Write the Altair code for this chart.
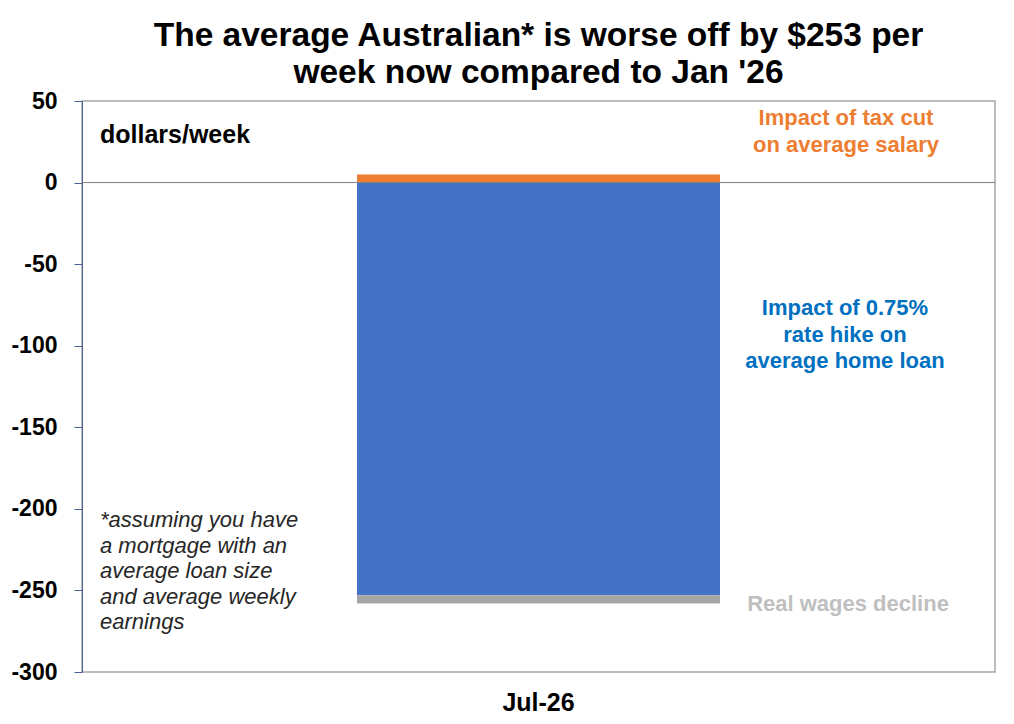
import altair as alt
import pandas as pd

period = ["Jul-26"]
components = ["Impact of tax cut on average salary",
              "Impact of 0.75% rate hike on average home loan",
              "Real wages decline"]
values = [5, -253, -5]
stack_order = [0, 1, 2]
bar_colors = ["#ED7D31", "#4472C4", "#A5A5A5"]
y_ticks = [-300, -250, -200, -150, -100, -50, 0, 50]

title_lines = ["The average Australian* is worse off by $253 per",
               "week now compared to Jan '26"]
unit_label = "dollars/week"
tax_label = "Impact of tax cut\non average salary"
rate_label = "Impact of 0.75%\nrate hike on\naverage home loan"
wages_label = "Real wages decline"
footnote = "*assuming you have\na mortgage with an\naverage loan size\nand average weekly\nearnings"

FONT = "Liberation Sans"
W, H = 913, 571

df = pd.DataFrame({
    "period": period * len(values),
    "component": components,
    "value": values,
    "order": stack_order,
})

y_scale = alt.Scale(domain=[-300, 50], nice=False, zero=False)

bars = alt.Chart(df).mark_bar(size=363).encode(
    x=alt.X("period:N", title=None,
            axis=alt.Axis(labelFontSize=25, labelFontWeight="bold", labelColor="black",
                          labelFont=FONT, ticks=False, domain=False, labelPadding=18,
                          labelAngle=0)),
    y=alt.Y("value:Q", stack="zero", scale=y_scale, title=None,
            axis=alt.Axis(values=y_ticks, grid=False, labelExpr="datum.value",
                          labelFontSize=23, labelFontWeight="bold", labelColor="black",
                          labelFont=FONT, tickSize=8, tickColor="#4a6396",
                          domainColor="#4a6396", labelPadding=17)),
    color=alt.Color("component:N", scale=alt.Scale(domain=components, range=bar_colors),
                    legend=None),
    order=alt.Order("order:Q"),
)

zero = alt.Chart(pd.DataFrame({"z": [0]})).mark_rule(color="#808080", strokeWidth=1).encode(
    y=alt.Y("z:Q", scale=y_scale)
)


def note(text, x, y, color, size, align="center", style="normal", line_h=27):
    return alt.Chart(pd.DataFrame({"t": [text]})).mark_text(
        font=FONT, fontSize=size, fontWeight="bold" if style == "bold" else "normal",
        fontStyle="italic" if style == "italic" else "normal",
        color=color, align=align, baseline="middle", lineBreak="\n", lineHeight=line_h,
    ).encode(text="t:N", x=alt.value(x), y=alt.value(y))


chart = alt.layer(
    bars,
    zero,
    note(unit_label, 18, 34, "black", 25, align="left", style="bold"),
    note(tax_label, 764, 17, "#ED7D31", 22, style="bold"),
    note(rate_label, 763, 207, "#0070C0", 22, style="bold", line_h=26.5),
    note(wages_label, 766, 503, "#BFBFBF", 22, style="bold"),
    note(footnote, 18, 419, "#262626", 22, align="left", style="italic", line_h=25.5),
).properties(
    width=W,
    height=H,
    title=alt.TitleParams(text=title_lines, font=FONT, fontSize=33.5, fontWeight="bold",
                          color="black", anchor="middle", lineHeight=37, offset=0),
    autosize=alt.AutoSizeParams(type="none"),
    padding={"left": 74, "top": 93, "right": 3, "bottom": 44},
).configure_view(stroke="#A6A6A6", strokeWidth=1.5)

chart.save("out.html", embed_options={"renderer": "svg", "actions": False})
